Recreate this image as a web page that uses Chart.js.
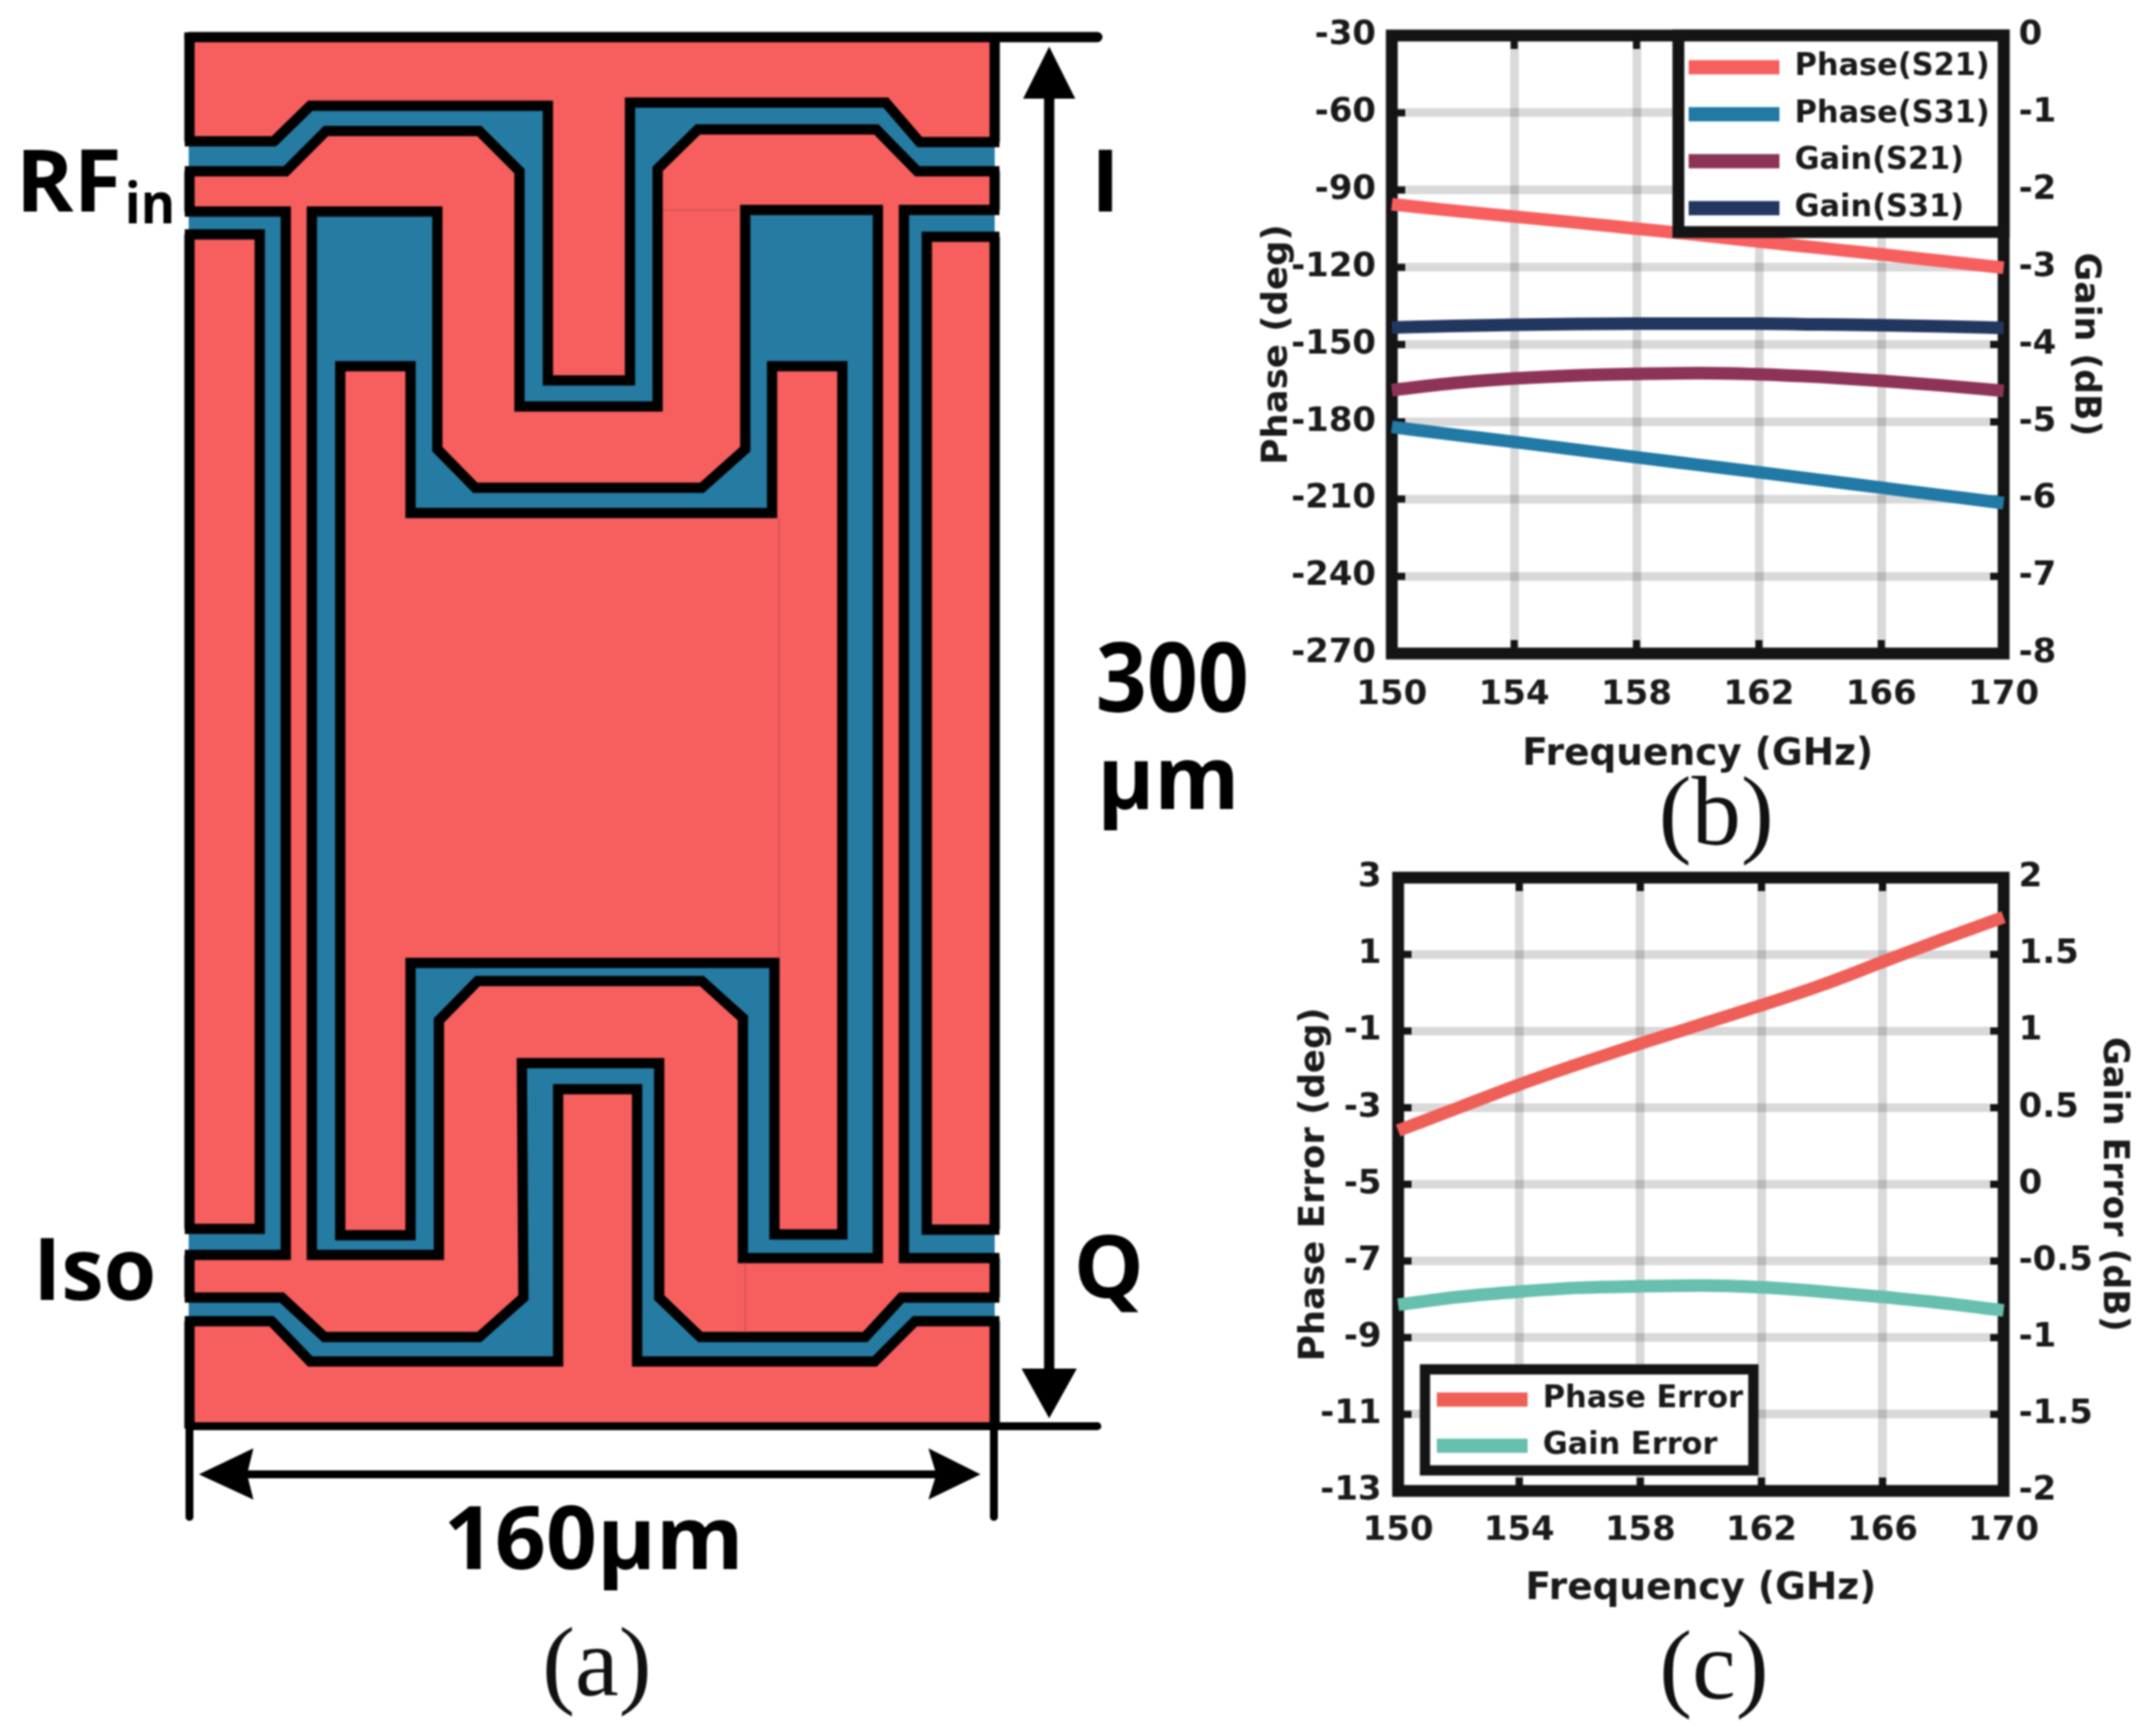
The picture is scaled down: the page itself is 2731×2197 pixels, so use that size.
<!DOCTYPE html>
<html><head><meta charset="utf-8">
<title>Layout and simulated phase / gain</title>
<script src="https://cdn.jsdelivr.net/npm/chart.js@4"></script>
<style>
html,body{margin:0;padding:0;background:#fff;width:2731px;height:2197px;overflow:hidden}
#stage{position:absolute;left:0;top:0;width:2731px;height:2197px;filter:blur(1px)}
#stage svg{position:absolute;left:0;top:0}
#stage canvas{position:absolute}
.b{font-family:"Open Sans";font-weight:700;fill:#000}
.s{font-family:"Liberation Serif";font-size:125px;fill:#111;text-anchor:middle}
.ln{fill:none;stroke:#000;stroke-width:13;stroke-linejoin:miter;stroke-linecap:butt}
.thin{fill:none;stroke:#000;stroke-width:10;stroke-linecap:round}
.red{fill:#F75F5F}.blue{fill:#267BA3}
</style></head>
<body>
<div id="stage">
<svg width="2731" height="2197" viewBox="0 0 2731 2197">
  <rect class="red" x="240" y="47" width="1020" height="1760"/>
  <path class="blue" d="M239,179 L347,179 L393,134 L694,134 L694,482 L798,482 L798,130 L1122,130 L1165,180 L1260,180 L1260,217 L1162,217 L1110,164 L884,164 L833,214 L833,515 L658,515 L658,217 L607,166 L413,166 L362,217 L239,217Z"/>
  <path class="ln" d="M234,179 L347,179 L393,134 L694,134 L694,482 L798,482 L798,130 L1122,130 L1165,180 L1266,180"/>
  <path class="ln" d="M234,217 L362,217 L413,166 L607,166 L658,217 L658,515 L833,515 L833,214 L884,164 L1110,164 L1162,217 L1266,217"/>
  <path class="blue" d="M239,268 L362,268 L362,1590 L239,1590 L239,1557 L329,1557 L329,297 L239,297Z"/>
  <path class="ln" d="M234,268 L362,268 L362,1590 L234,1590"/>
  <path class="ln" d="M234,297 L329,297 L329,1557 L234,1557"/>
  <path class="blue" d="M1260,266 L1145,266 L1145,1594 L1260,1594 L1260,1558 L1174,1558 L1174,300 L1260,300Z"/>
  <path class="ln" d="M1266,266 L1145,266 L1145,1594 L1266,1594"/>
  <path class="ln" d="M1266,300 L1174,300 L1174,1558 L1266,1558"/>
  <path class="blue" d="M395,268 L554,268 L554,569 L602,618 L889,618 L944,569 L944,266 L1112,266 L1112,1594 L941,1594 L941,1290 L889,1243 L605,1243 L556,1293 L556,1590 L395,1590Z"/>
  <path class="ln" d="M395,268 L554,268 L554,569 L602,618 L889,618 L944,569 L944,266 L1112,266 L1112,1594 L941,1594 L941,1290 L889,1243 L605,1243 L556,1293 L556,1590 L395,1590Z"/>
  <path class="red" d="M431,464 L520,464 L520,650 L978,650 L978,464 L1067,464 L1067,1564 L981,1564 L981,1220 L520,1220 L520,1565 L431,1565Z"/>
  <path class="ln" d="M431,464 L520,464 L520,650 L978,650 L978,464 L1067,464 L1067,1564 L981,1564 L981,1220 L520,1220 L520,1565 L431,1565Z"/>
  <path class="blue" d="M239,1644 L357,1644 L411,1694 L607,1694 L663,1644 L661,1347 L835,1347 L835,1644 L887,1694 L1096,1694 L1142,1644 L1260,1644 L1260,1674 L1159,1674 L1108,1725 L807,1725 L807,1380 L707,1380 L707,1725 L393,1725 L344,1674 L239,1674Z"/>
  <path class="ln" d="M234,1644 L357,1644 L411,1694 L607,1694 L663,1644 L661,1347 L835,1347 L835,1644 L887,1694 L1096,1694 L1142,1644 L1266,1644"/>
  <path class="ln" d="M234,1674 L344,1674 L393,1725 L707,1725 L707,1380 L807,1380 L807,1725 L1108,1725 L1159,1674 L1266,1674"/>
  <path fill="none" stroke="#b04a4a" stroke-opacity=".45" stroke-width="2" d="M987,656 V1214 M840,266 H934 M944,1600 V1688"/>
  <path class="ln" d="M240,41 V179 M240,217 V268 M240,297 V1557 M240,1590 V1644 M240,1674 V1810"/>
  <path class="ln" d="M1260,41 V180 M1260,217 V266 M1260,300 V1558 M1260,1594 V1644 M1260,1674 V1810"/>
  <path class="thin" d="M240,1805 V1922 M1259,1805 V1922"/>
  <path class="ln" style="stroke-linecap:round" d="M240,47 H1390"/>
  <path class="thin" d="M240,1807 H1390"/>
  <path class="thin" style="stroke-width:13;stroke-linecap:butt" d="M1329,110 V1745"/>
  <polygon points="1329,59 1296,125 1362,125" fill="#000"/>
  <polygon points="1329,1797 1294,1734 1364,1734" fill="#000"/>
  <path class="thin" style="stroke-linecap:butt" d="M300,1868 H1190"/>
  <polygon points="252,1868 321,1835 313,1868 321,1900" fill="#000"/>
  <polygon points="1242,1868 1176,1835 1186,1868 1176,1900" fill="#000"/>
  <text class="b" x="20" y="268" font-size="110" textLength="134" lengthAdjust="spacingAndGlyphs">RF</text>
  <text class="b" x="158" y="283" font-size="72" textLength="64" lengthAdjust="spacingAndGlyphs">in</text>
  <text class="b" x="1382" y="268" font-size="110">I</text>
  <text class="b" x="42" y="1647" font-size="110" textLength="156" lengthAdjust="spacingAndGlyphs">Iso</text>
  <text class="b" x="1360" y="1644" font-size="110" textLength="89" lengthAdjust="spacingAndGlyphs">Q</text>
  <text class="b" x="1388" y="902" font-size="122" textLength="194" lengthAdjust="spacingAndGlyphs">300</text>
  <text class="b" x="1390" y="1025" font-size="112" textLength="180" lengthAdjust="spacingAndGlyphs">μm</text>
  <text class="b" x="562" y="1988" font-size="112" textLength="380" lengthAdjust="spacingAndGlyphs">160μm</text>
  <text class="s" x="756" y="2148">(a)</text>
  <text class="s" x="2174" y="1070">(b)</text>
  <text class="s" x="2171" y="2152">(c)</text>
</svg>
<canvas id="chartB" width="1171" height="1060" style="left:1560px;top:0"></canvas>
<canvas id="chartC" width="1171" height="1117" style="left:1560px;top:1080px"></canvas>
</div>
<script>
const frequency   = [150,152,154,156,158,160,162,164,166,168,170];
const phaseS21    = [-95.5,-98,-100.3,-102.6,-105,-107.4,-110,-112.5,-115,-117.6,-120.2];
const phaseS31    = [-182,-185,-187.8,-190.8,-193.8,-196.7,-199.6,-202.6,-205.6,-208.6,-211.6];
const gainS21     = [-4.59,-4.50,-4.44,-4.40,-4.38,-4.37,-4.385,-4.42,-4.47,-4.53,-4.60];
const gainS31     = [-3.78,-3.76,-3.745,-3.735,-3.73,-3.73,-3.73,-3.74,-3.75,-3.765,-3.785];
const phaseError  = [-3.6,-3.0,-2.4,-1.85,-1.33,-0.83,-0.33,0.2,0.8,1.4,1.97];
const gainError   = [-0.786,-0.735,-0.70,-0.675,-0.665,-0.66,-0.672,-0.70,-0.735,-0.775,-0.823];

const FONT = '"DejaVu Sans"';
const INK = '#1a1a1a';
const FRAME = '#141414';

const series = (label, values, color, axis) => ({
  label, data: values.map((y,i)=>({x:frequency[i],y})),
  borderColor: color, backgroundColor: color, borderWidth: 16,
  yAxisID: axis, pointRadius: 0, cubicInterpolationMode: 'monotone',
  borderCapStyle: 'butt', clip: false
});

const framePlugin = {
  id: 'frame',
  beforeDatasetsDraw(chart){
    const {ctx, chartArea:a, scales:{x,y}} = chart;
    ctx.save();
    ctx.strokeStyle = FRAME; ctx.lineWidth = 15; ctx.lineJoin='miter';
    ctx.strokeRect(a.left,a.top,a.right-a.left,a.bottom-a.top);
    ctx.lineWidth = 9; ctx.beginPath();
    const L = 17;
    x.ticks.forEach(t=>{const p=x.getPixelForValue(t.value);
      ctx.moveTo(p,a.top);ctx.lineTo(p,a.top+L);ctx.moveTo(p,a.bottom);ctx.lineTo(p,a.bottom-L);});
    y.ticks.forEach(t=>{const p=y.getPixelForValue(t.value);
      ctx.moveTo(a.left,p);ctx.lineTo(a.left+L,p);ctx.moveTo(a.right,p);ctx.lineTo(a.right-L,p);});
    ctx.stroke(); ctx.restore();
  },
  afterLayout(chart, args, o){
    const lg = chart.legend, b = o.place;
    lg.left = b.left; lg.top = b.top; lg.right = b.left+600; lg.bottom = b.top+400;
    lg.width = 600; lg.height = 400;
  },
  afterDatasetsDraw(chart, args, o){
    const {ctx} = chart, r = o.box;
    ctx.save();
    ctx.fillStyle='#fff'; ctx.strokeStyle=FRAME; ctx.lineWidth=o.boxWidth;
    ctx.fillRect(r.x,r.y,r.w,r.h); ctx.strokeRect(r.x,r.y,r.w,r.h);
    ctx.restore();
    chart.legend.draw();
  }
};

function makeChart(id, datasets, g){
  const str = v => String(v);
  const sized = (prop,val) => s => { s[prop] = val; s.paddingTop=0; s.paddingBottom=0; s.paddingLeft=0; s.paddingRight=0; };
  const gridOn = {color:'rgba(0,0,0,0.15)', lineWidth:11, drawTicks:false};
  return new Chart(document.getElementById(id), {
    type:'line',
    data:{datasets},
    plugins:[framePlugin],
    options:{
      responsive:false, animation:false, events:[],
      layout:{autoPadding:false, padding:{top:g.top,left:0,right:0,bottom:0}},
      font:{family:FONT},
      scales:{
        x:{type:'linear',min:150,max:170,grid:gridOn,border:{display:false},
           afterFit:sized('height',g.bottom),
           ticks:{stepSize:4,padding:g.xPad,maxRotation:0,color:INK,callback:str,font:{family:FONT,size:43,weight:'bold'}},
           title:{display:true,text:'Frequency (GHz)',color:INK,padding:{top:0,bottom:g.xTitle},font:{family:FONT,size:47.5,weight:'bold'}}},
        y:{position:'left',min:g.lMin,max:g.lMax,grid:gridOn,border:{display:false},
           afterFit:sized('width',g.left),
           ticks:{stepSize:g.lStep,padding:g.lPad,color:INK,callback:str,font:{family:FONT,size:43,weight:'bold'}},
           title:{display:true,text:g.lTitle,color:INK,padding:{top:g.lT,bottom:0},font:{family:FONT,size:45,weight:'bold'}}},
        y1:{position:'right',min:g.rMin,max:g.rMax,grid:{display:false,drawTicks:false},border:{display:false},
           afterFit:sized('width',g.right),
           ticks:{stepSize:g.rStep,padding:19,color:INK,callback:str,font:{family:FONT,size:43,weight:'bold'}},
           title:{display:true,text:g.rTitle,color:INK,padding:{top:g.rT,bottom:0},font:{family:FONT,size:44,weight:'bold'}}}
      },
      plugins:{
        tooltip:{enabled:false},
        legend:{display:true,position:'chartArea',align:'start',
          labels:{boxWidth:g.swatch,boxHeight:18,padding:g.rowPad,color:INK,
            font:{family:FONT,size:38.5,weight:'bold'},
            generateLabels(c){
              return Chart.defaults.plugins.legend.labels.generateLabels(c)
                .map(i=>Object.assign(i,{lineWidth:0,fillStyle:i.strokeStyle}));
            }}},
        frame:{place:g.legendAt,box:g.legendBox,boxWidth:g.legendLine}
      }
    }
  });
}

makeChart('chartB',[
  series('Phase(S21)',phaseS21,'#F75F5F','y'),
  series('Phase(S31)',phaseS31,'#2179A5','y'),
  series('Gain(S21)',gainS21,'#8E3358','y1'),
  series('Gain(S31)',gainS31,'#22375F','y1')
],{top:45,bottom:232,left:203,right:193,xPad:27,xTitle:75,lPad:20,lT:31,rT:64,
   lMin:-270,lMax:-30,lStep:30,rMin:-8,rMax:0,rStep:1,
   lTitle:'Phase (deg)',rTitle:'Gain (dB)',swatch:115,rowPad:21,
   legendAt:{left:558,top:45},legendBox:{x:566,y:45,w:412,h:249},legendLine:15});

makeChart('chartC',[
  series('Phase Error',phaseError,'#EE5F58','y'),
  series('Gain Error',gainError,'#67BFAD','y1')
],{top:32,bottom:308,left:211,right:193,xPad:25,xTitle:155,lPad:21,lT:78,rT:28.6,
   lMin:-13,lMax:3,lStep:2,rMin:-2,rMax:2,rStep:0.5,
   lTitle:'Phase Error (deg)',rTitle:'Gain Error (dB)',swatch:115,rowPad:20,
   legendAt:{left:240,top:654},legendBox:{x:245,y:655,w:416,h:128},legendLine:13});
</script>
</body></html>
